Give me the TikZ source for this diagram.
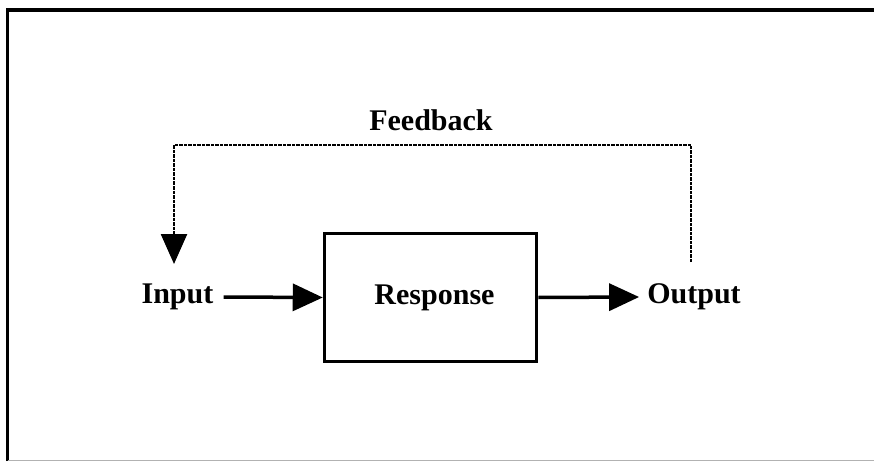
\documentclass[tikz,border=0pt]{standalone}
\usepackage{fontspec}
\setmainfont{Liberation Serif}
\usetikzlibrary{arrows.meta}
\tikzset{
  lbl/.style={font=\bfseries\fontsize{30}{34}\selectfont, inner sep=0pt},
  blockbox/.style={draw, line width=3.5pt, minimum width=212pt, minimum height=128pt, inner sep=0pt, font=\bfseries\fontsize{30}{34}\selectfont},
  flow/.style={line width=3.5pt, -{Triangle[length=30pt,width=27pt]}},
  fb/.style={line width=2.5pt, dash pattern=on 3.5pt off 1pt},
  fbarrow/.style={fb, -{Triangle[length=30pt,width=26pt]}},
  frame/.style={line width=3.5pt}
}
\begin{document}
\begin{tikzpicture}[x=1pt,y=-1pt]
\useasboundingbox (0,0) rectangle (874,462);
% frame
\draw[frame] (7.5,461) -- (7.5,10) -- (874,10);
\draw[line width=1.5pt, gray!60] (7.5,460.5) -- (874,460.5);
% nodes
\node[blockbox] (resp) at (430.5,297.5) {\hspace*{8pt}Response};
\node[lbl] (input) at (177.5,297) {Input};
\node[lbl] (output) at (694,297) {Output};
\node[lbl] (fblabel) at (431,120) {Feedback};
\coordinate (fbstart) at (691,262);
\coordinate (fbend) at (174,264);
% connectors
\draw[flow] ([xshift=10pt]input.east) -- (resp.west);
\draw[flow] (resp.east) -- ([xshift=-8pt]output.west);
\draw[fbarrow] (fbstart) -- (691,145) -| (fbend);
\end{tikzpicture}
\end{document}
